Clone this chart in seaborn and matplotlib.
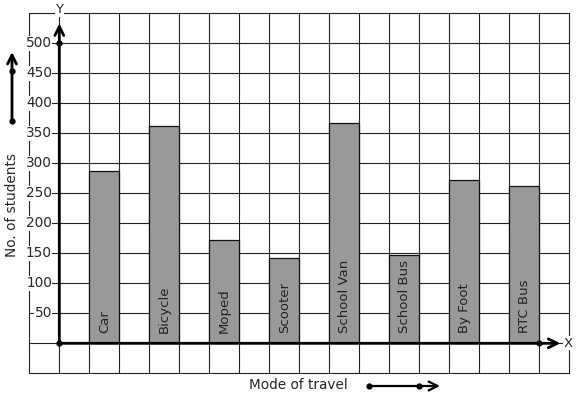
import numpy as np
import pandas as pd
import matplotlib
matplotlib.use("Agg")
import matplotlib.pyplot as plt
import seaborn as sns

modes = ["Car", "Bicycle", "Moped", "Scooter", "School Van", "School Bus", "By Foot", "RTC Bus"]
students = [288, 363, 172, 142, 368, 147, 272, 262]
ytick_values = [50, 100, 150, 200, 250, 300, 350, 400, 450, 500]

df = pd.DataFrame({"mode": modes, "students": students})

sns.set_theme(style="white")
plt.rcParams["font.family"] = ["DejaVu Sans"]

W, H = 577, 399
fig = plt.figure(figsize=(W / 100, H / 100), dpi=100)
left, right, top, bottom = 29.3, 569.3, 13.3, 373.3
ax = fig.add_axes([left / W, (H - bottom) / H, (right - left) / W, (bottom - top) / H])

sns.barplot(data=df, x="mode", y="students", color="#999999", edgecolor="#111111",
            linewidth=0.9, width=0.5, saturation=1, ax=ax, zorder=3)

x0 = -0.75  # origin in category units
ax.set_xlim(-1.25, 7.75)
ax.set_ylim(-50, 550)

# grid
for gx in np.arange(-1.25, 7.76, 0.5):
    ax.axvline(gx, color="#222222", lw=0.8, zorder=1, clip_on=False)
for gy in np.arange(-50, 551, 50):
    ax.axhline(gy, color="#222222", lw=0.8, zorder=1, clip_on=False)

ax.set_xticks([])
ax.set_yticks([])
ax.set_xlabel("")
ax.set_ylabel("")
for s in ax.spines.values():
    s.set_visible(False)

# axes arrows
ax.annotate("", xy=(x0, 533), xytext=(x0, 0),
            arrowprops=dict(arrowstyle="->", lw=2, color="black", mutation_scale=16,
                            shrinkA=0, shrinkB=0), zorder=5)
ax.annotate("", xy=(7.6, 0), xytext=(x0, 0),
            arrowprops=dict(arrowstyle="->", lw=2, color="black", mutation_scale=16,
                            shrinkA=0, shrinkB=0), zorder=5)
ax.plot([x0, x0, 7.25], [0, 500, 0], "o", color="black", ms=3.5, zorder=6, clip_on=False)

ax.text(x0, 556, "Y", ha="center", va="center", fontsize=9.5,
        bbox=dict(facecolor="white", edgecolor="none", pad=0.5), zorder=6, clip_on=False)
ax.text(7.735, 0, "X", ha="center", va="center", fontsize=9.5,
        bbox=dict(facecolor="white", edgecolor="none", pad=0.5), zorder=6, clip_on=False)

# y tick labels
for v in ytick_values:
    ax.annotate(str(v), xy=(x0, v), xytext=(-5.3, 0), textcoords="offset points",
                ha="right", va="center", fontsize=9.8,
                bbox=dict(facecolor="white", edgecolor="none", pad=0.4), zorder=6)

# bar labels
for p, name in zip(ax.patches, modes):
    ax.text(p.get_x() + p.get_width() / 2, 17, name, rotation=90, ha="center",
            va="bottom", fontsize=9.5, color="#222222", zorder=7)

# axis titles and arrows
fig.text(12 / W, (H - 205) / H, "No. of students", rotation=90, ha="center",
         va="center", fontsize=9.8)
fig.text(298 / W, (H - 385) / H, "Mode of travel", ha="center", va="center",
         fontsize=9.8)

fig.add_artist(matplotlib.patches.FancyArrowPatch(
    (12, H - 121), (12, H - 52), transform=None, arrowstyle="->",
    mutation_scale=16, lw=2, color="black", shrinkA=0, shrinkB=0))
fig.add_artist(matplotlib.patches.FancyArrowPatch(
    (369, H - 386), (440, H - 386), transform=None, arrowstyle="->",
    mutation_scale=16, lw=1.6, color="black", shrinkA=0, shrinkB=0))
for (px, py) in [(12, 121), (12, 71), (369, 386), (419, 386)]:
    fig.add_artist(matplotlib.lines.Line2D([px], [H - py], marker="o", ms=3.5,
                                           color="black", transform=None))

fig.savefig("out.png", dpi=100)
